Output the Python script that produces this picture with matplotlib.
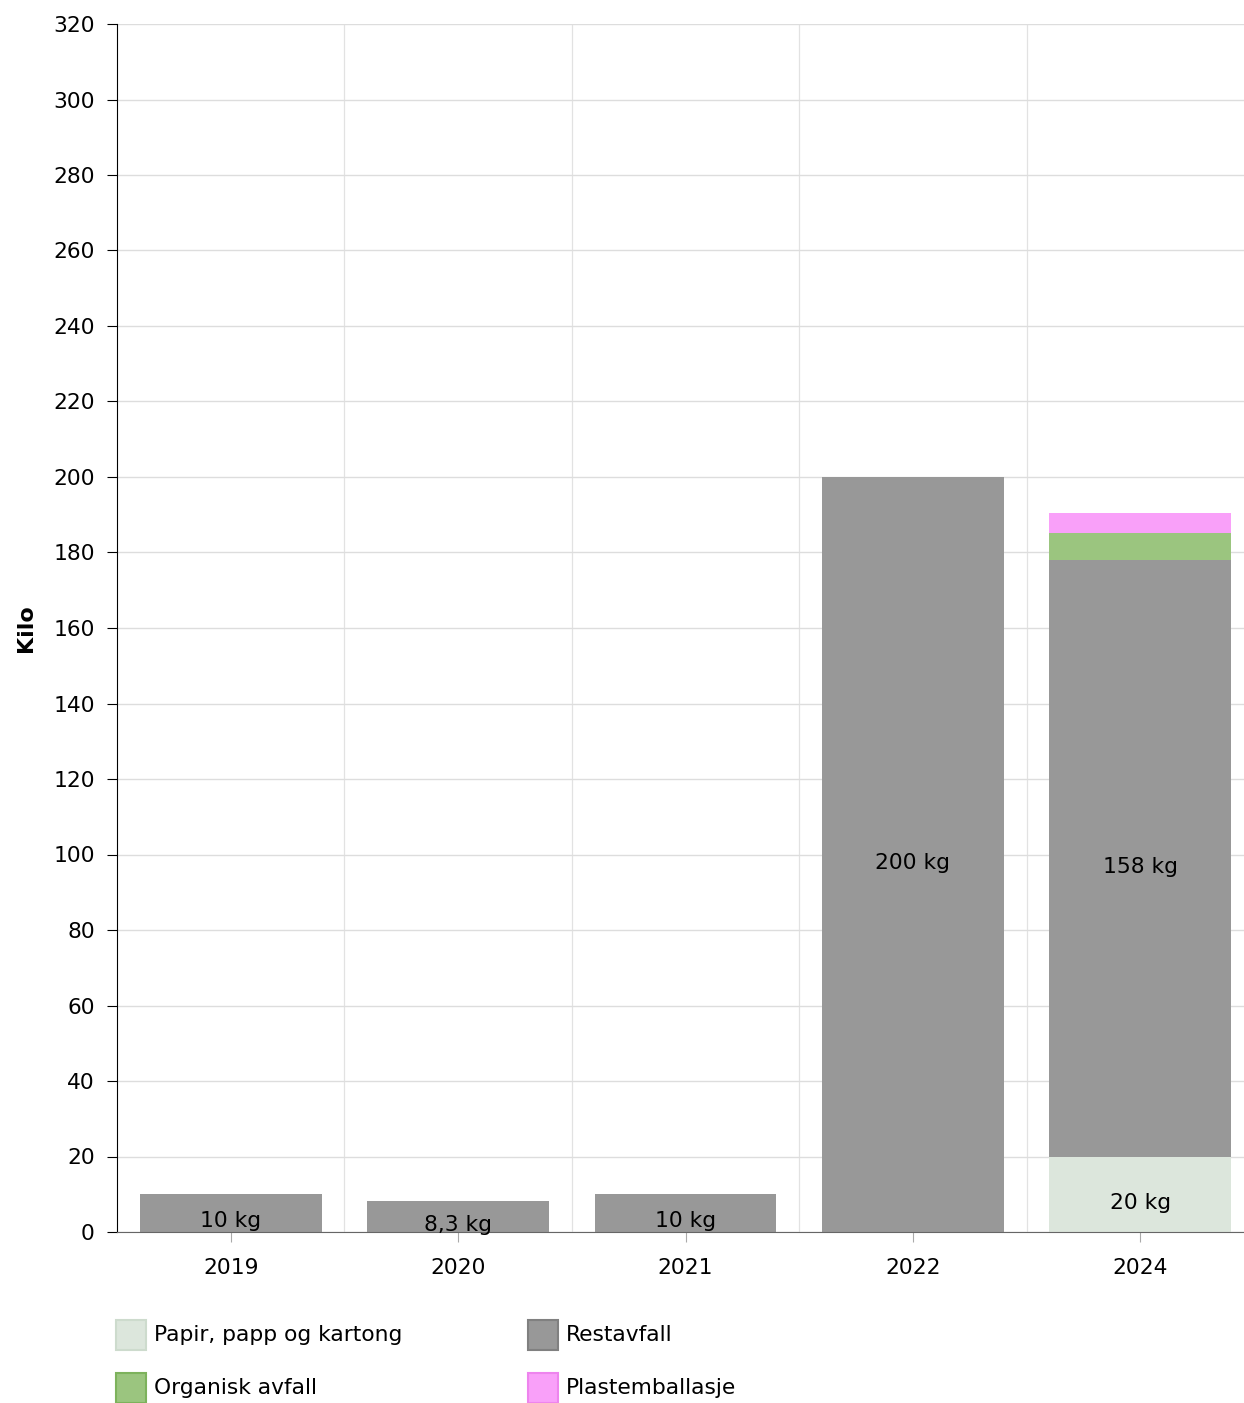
import numpy as np
import matplotlib.pyplot as plt
from matplotlib.patches import Rectangle

years = ['2019', '2020', '2021', '2022', '2024']
papir = [0, 0, 0, 0, 20]
restavfall = [10, 8.3, 10, 200, 158]
organisk = [0, 0, 0, 0, 7.2]
plast = [0, 0, 0, 0, 5.3]

series = [
    ('Papir, papp og kartong', papir, '#dce6dc', '#cddbcd'),
    ('Restavfall', restavfall, '#989898', '#808080'),
    ('Organisk avfall', organisk, '#9bc57f', '#7db25c'),
    ('Plastemballasje', plast, '#f9a0f9', '#ee84ee'),
]
labels = {0: ['', '', '', '', '20 kg'], 1: ['10 kg', '8,3 kg', '10 kg', '200 kg', '158 kg']}

FS = 15.7
plt.rcParams['font.family'] = ['DejaVu Sans']
fig = plt.figure(figsize=(12.44, 14.03), dpi=100)
W, H = 1244, 1403
# plot area runs a little past the right edge of the image
ax = fig.add_axes([117 / W, 1 - 1232 / H, (1254 - 117) / W, (1232 - 24) / H])

x = np.arange(len(years))
bottom = np.zeros(len(years))
for i, (name, vals, col, ecol) in enumerate(series):
    vals = np.array(vals, dtype=float)
    ax.bar(x, vals, 0.8, bottom=bottom, color=col, linewidth=0, zorder=2)
    if i in labels:
        for j, lab in enumerate(labels[i]):
            if lab:
                ax.annotate(lab, (x[j], bottom[j] + vals[j] / 2), xytext=(0, -6),
                            textcoords='offset points', ha='center', va='center',
                            fontsize=FS, zorder=3)
    bottom += vals

ax.set_xlim(-0.5, len(years) - 0.5)
ax.set_ylim(0, 320)
ax.set_yticks(np.arange(0, 321, 20))
ax.set_xticks(x)
ax.set_xticklabels(years)
ax.set_xticks(np.arange(0.5, len(years) - 0.5, 1), minor=True)
ax.tick_params(axis='x', which='major', length=7, color='#aaaaaa', labelsize=FS, pad=12)
ax.tick_params(axis='x', which='minor', length=0)
ax.tick_params(axis='y', length=7, color='black', labelsize=FS, pad=9)
ax.grid(axis='y', which='major', color='#dddddd', linewidth=1, zorder=0)
ax.grid(axis='x', which='minor', color='#e2e2e2', linewidth=0.9, zorder=0)
ax.set_axisbelow(True)
for s in ['top', 'right']:
    ax.spines[s].set_visible(False)
ax.spines['left'].set_color('black')
ax.spines['bottom'].set_color('#666666')
ax.set_ylabel('Kilo', fontsize=16, fontweight='bold', labelpad=12)

# legend drawn below the plot
leg_pos = [(116, 1320), (528, 1320), (116, 1373), (528, 1373)]
for (name, vals, col, ecol), (lx, ly) in zip(series, leg_pos):
    fig.patches.append(Rectangle((lx / W, 1 - (ly + 30) / H), 30 / W, 30 / H,
                                 transform=fig.transFigure, facecolor=col,
                                 edgecolor=ecol, linewidth=1.5))
    fig.text((lx + 38) / W, 1 - (ly + 15) / H, name, fontsize=FS, va='center', ha='left')

plt.savefig('out.png', dpi=100)
